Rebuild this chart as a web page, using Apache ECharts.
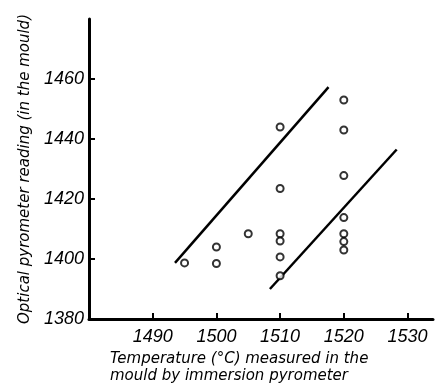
<!DOCTYPE html>
<html><head><meta charset="utf-8">
<script src="https://cdn.jsdelivr.net/npm/echarts@6/dist/echarts.min.js"></script>
<style>html,body{margin:0;padding:0;background:#fff}#c{width:436px;height:388px}</style>
</head><body><div id="c"></div>
<script>
// Measured points: [immersion temperature, optical pyrometer reading]
const pointsX = [1495, 1500, 1500, 1505, 1510, 1510, 1510, 1510, 1510, 1510, 1520, 1520, 1520, 1520, 1520, 1520, 1520];
const pointsY = [1398.7, 1404, 1398.5, 1408.4, 1444, 1423.5, 1408.4, 1406, 1400.7, 1394.4, 1453, 1443, 1427.8, 1413.8, 1408.4, 1405.8, 1403];
// Boundary lines (end points)
const upperLineX = [1493.5, 1517.6];
const upperLineY = [1398.7, 1457.3];
const lowerLineX = [1508.4, 1528.3];
const lowerLineY = [1390, 1436.5];
// Tick labels
const xTicks = [1490, 1500, 1510, 1520, 1530];
const yTicks = [1380, 1400, 1420, 1440, 1460];
const xTitle = 'Temperature (°C) measured in the\nmould by immersion pyrometer';
const yTitle = 'Optical pyrometer reading (in the mould)';

const labelFont = "Liberation Sans";
const titleFont = "DejaVu Sans";
const chart = echarts.init(document.getElementById('c'), null, {renderer: 'canvas'});
const zip = (a, b) => a.map((v, i) => [v, b[i]]);
chart.setOption({
  animation: false,
  backgroundColor: '#fff',
  grid: {left: 89, right: 3, top: 19, bottom: 69, outerBoundsMode: 'none', containLabel: false},
  graphic: [{
    type: 'text', left: 110, top: 351,
    style: {text: xTitle, fill: '#000', font: 'italic 15px "DejaVu Sans"', lineHeight: 17}
  }],
  xAxis: {
    type: 'value', min: 1480, max: 1534, interval: 10,
    splitLine: {show: false},
    axisLine: {lineStyle: {color: '#000', width: 3}},
    axisTick: {inside: true, length: 6, lineStyle: {color: '#000', width: 2}, customValues: xTicks},
    axisLabel: {customValues: xTicks, formatter: v => String(v), color: '#000', fontFamily: labelFont, fontStyle: 'italic', fontSize: 18, margin: 9}
  },
  yAxis: {
    type: 'value', min: 1380, max: 1480, interval: 20,
    splitLine: {show: false},
    axisLine: {lineStyle: {color: '#000', width: 3}},
    axisTick: {inside: true, length: 6, lineStyle: {color: '#000', width: 2}, customValues: yTicks.slice(1)},
    axisLabel: {customValues: yTicks, formatter: v => String(v), color: '#000', fontFamily: labelFont, fontStyle: 'italic', fontSize: 18, margin: 5},
    name: yTitle,
    nameLocation: 'middle', nameGap: 56,
    nameTextStyle: {color: '#000', fontFamily: titleFont, fontStyle: 'italic', fontSize: 15}
  },
  series: [
    {type: 'scatter', data: zip(pointsX, pointsY), symbol: 'circle', symbolSize: 7,
     itemStyle: {color: '#fff', borderColor: '#000', borderWidth: 2}, z: 3},
    {type: 'line', data: zip(upperLineX, upperLineY), showSymbol: false, symbol: 'none',
     lineStyle: {color: '#000', width: 2.5}},
    {type: 'line', data: zip(lowerLineX, lowerLineY), showSymbol: false, symbol: 'none',
     lineStyle: {color: '#000', width: 2.5}}
  ]
});
</script></body></html>
